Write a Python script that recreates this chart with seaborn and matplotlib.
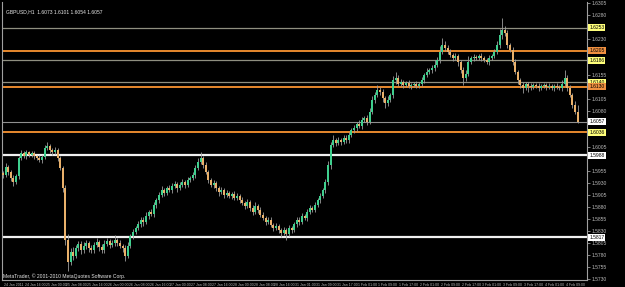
import matplotlib
matplotlib.use("Agg")
import matplotlib.pyplot as plt
import matplotlib.transforms as mtransforms
import numpy as np
import pandas as pd
import seaborn as sns

# ---------------- data ----------------
title_text = "GBPUSD,H1  1.6073 1.6101 1.6054 1.6057"
copyright_text = "MetaTrader, \u00a9 2001-2010 MetaQuotes Software Corp."

first_open = 1.5950
close = [
    1.5946, 1.5963, 1.5953, 1.5940, 1.5932, 1.5944, 1.5982, 1.5992, 1.5986, 1.5994,
    1.5988, 1.5992, 1.5986, 1.5982, 1.5978, 1.5984, 1.6003, 1.6007, 1.5999, 1.5994,
    1.5999, 1.5982, 1.5961, 1.5919, 1.5811, 1.5765, 1.5786, 1.5778, 1.5794, 1.5803,
    1.5790, 1.5799, 1.5805, 1.5794, 1.5790, 1.5801, 1.5807, 1.5796, 1.5790, 1.5803,
    1.5809, 1.5801, 1.5805, 1.5811, 1.5805, 1.5799, 1.5794, 1.5778, 1.5799, 1.5819,
    1.5828, 1.5836, 1.5844, 1.5853, 1.5849, 1.5861, 1.5869, 1.5865, 1.5884, 1.5894,
    1.5905, 1.5915, 1.5909, 1.5919, 1.5915, 1.5924, 1.5928, 1.5919, 1.5926, 1.5932,
    1.5926, 1.5936, 1.5940, 1.5946, 1.5961, 1.5974, 1.5982, 1.5967, 1.5953, 1.5936,
    1.5926, 1.5930, 1.5919, 1.5911, 1.5915, 1.5905, 1.5909, 1.5903, 1.5907, 1.5899,
    1.5903, 1.5894, 1.5888, 1.5882, 1.5890, 1.5878, 1.5869, 1.5882, 1.5874, 1.5863,
    1.5857, 1.5849, 1.5853, 1.5842, 1.5836, 1.5840, 1.5832, 1.5826, 1.5832, 1.5824,
    1.5836, 1.5832, 1.5844, 1.5853, 1.5849, 1.5861, 1.5857, 1.5869, 1.5878, 1.5874,
    1.5884, 1.5894, 1.5903, 1.5915, 1.5932, 1.5967, 1.6009, 1.6019, 1.6013, 1.6019,
    1.6015, 1.6024, 1.6019, 1.6030, 1.6040, 1.6044, 1.6053, 1.6049, 1.6061, 1.6065,
    1.6057, 1.6078, 1.6103, 1.6113, 1.6124, 1.6119, 1.6107, 1.6097, 1.6103, 1.6113,
    1.6144, 1.6149, 1.6136, 1.6140, 1.6134, 1.6138, 1.6132, 1.6134, 1.6136, 1.6132,
    1.6136, 1.6144, 1.6155, 1.6161, 1.6165, 1.6169, 1.6176, 1.6186, 1.6203, 1.6217,
    1.6211, 1.6203, 1.6196, 1.6190, 1.6194, 1.6182, 1.6165, 1.6149, 1.6157, 1.6182,
    1.6190, 1.6192, 1.6190, 1.6194, 1.6190, 1.6186, 1.6182, 1.6190, 1.6194, 1.6203,
    1.6217, 1.6238, 1.6249, 1.6242, 1.6217, 1.6207, 1.6182, 1.6161, 1.6144, 1.6134,
    1.6128, 1.6136, 1.6132, 1.6130, 1.6134, 1.6132, 1.6128, 1.6132, 1.6134, 1.6130,
    1.6132, 1.6128, 1.6132, 1.6130, 1.6128, 1.6136, 1.6149, 1.6128, 1.6113, 1.6092,
    1.6078, 1.6057,
]
# upper / lower shadows in pips
up_wick = [
    5, 8, 4, 3, 6, 4, 5, 7, 4, 5,
    3, 4, 5, 3, 6, 4, 6, 8, 5, 4,
    6, 4, 5, 4, 6, 12, 8, 10, 6, 7,
    5, 8, 6, 4, 7, 5, 9, 4, 6, 8,
    6, 5, 7, 10, 5, 6, 4, 6, 8, 5,
    6, 4, 7, 5, 6, 8, 4, 6, 7, 5,
    6, 8, 5, 4, 7, 5, 6, 4, 5, 7,
    4, 6, 5, 7, 6, 8, 12, 5, 6, 4,
    5, 6, 4, 5, 7, 4, 6, 5, 4, 6,
    5, 4, 6, 5, 7, 4, 5, 8, 4, 5,
    6, 4, 5, 7, 4, 6, 5, 4, 6, 5,
    7, 5, 4, 6, 5, 7, 4, 6, 5, 4,
    6, 5, 7, 5, 6, 8, 6, 10, 5, 6,
    4, 6, 5, 7, 5, 6, 4, 8, 6, 5,
    6, 7, 8, 6, 10, 5, 6, 4, 7, 5,
    8, 12, 5, 6, 4, 5, 6, 4, 5, 6,
    5, 6, 4, 8, 5, 6, 10, 7, 12, 15,
    8, 6, 5, 4, 6, 5, 4, 6, 8, 12,
    5, 6, 4, 5, 6, 4, 5, 6, 4, 6,
    8, 12, 25, 8, 6, 5, 7, 6, 5, 4,
    6, 5, 4, 6, 5, 4, 6, 5, 4, 5,
    6, 4, 5, 6, 4, 8, 16, 6, 5, 4,
    8, 14,
]
down_wick = [
    6, 4, 7, 5, 8, 4, 6, 5, 4, 6,
    5, 4, 6, 5, 4, 6, 5, 4, 6, 5,
    4, 6, 5, 8, 10, 18, 6, 8, 5, 6,
    8, 5, 6, 7, 5, 6, 4, 8, 6, 5,
    4, 6, 5, 7, 6, 5, 8, 10, 5, 4,
    6, 5, 4, 6, 8, 5, 6, 4, 5, 6,
    5, 4, 6, 5, 4, 6, 5, 7, 4, 5,
    6, 4, 5, 4, 5, 4, 5, 6, 5, 6,
    4, 6, 5, 8, 4, 6, 5, 4, 6, 5,
    4, 6, 5, 7, 4, 6, 5, 4, 6, 5,
    4, 6, 5, 4, 7, 5, 6, 8, 5, 13,
    5, 6, 4, 5, 6, 4, 5, 6, 4, 5,
    4, 5, 6, 4, 5, 6, 8, 5, 6, 4,
    5, 4, 6, 5, 4, 6, 5, 4, 6, 5,
    6, 4, 5, 6, 4, 5, 8, 10, 6, 5,
    6, 8, 5, 4, 6, 5, 4, 6, 5, 4,
    5, 4, 6, 5, 4, 6, 5, 4, 6, 5,
    6, 5, 4, 6, 5, 8, 6, 15, 6, 5,
    4, 6, 5, 4, 6, 5, 4, 6, 5, 4,
    5, 6, 8, 6, 5, 4, 6, 5, 8, 6,
    10, 5, 12, 6, 4, 5, 6, 4, 5, 6,
    4, 5, 6, 4, 5, 6, 5, 6, 5, 6,
    5, 3,
]

time_labels = [
    "24 Jan 2011", "24 Jan 16:00", "25 Jan 00:00", "25 Jan 08:00", "25 Jan 16:00",
    "26 Jan 00:00", "26 Jan 08:00", "26 Jan 16:00", "27 Jan 00:00", "27 Jan 08:00",
    "27 Jan 16:00", "28 Jan 00:00", "28 Jan 08:00", "28 Jan 16:00", "31 Jan 01:00",
    "31 Jan 09:00", "31 Jan 17:00", "1 Feb 01:00", "1 Feb 09:00", "1 Feb 17:00",
    "2 Feb 01:00", "2 Feb 09:00", "2 Feb 17:00", "3 Feb 01:00", "3 Feb 09:00",
    "3 Feb 17:00", "4 Feb 01:00", "4 Feb 09:00",
]
bars_per_label = 8

price_ticks = [
    1.6305, 1.6280, 1.6255, 1.6230, 1.6205, 1.6180, 1.6155, 1.6130, 1.6105, 1.6080,
    1.6055, 1.6030, 1.6005, 1.5980, 1.5955, 1.5930, 1.5905, 1.5880, 1.5855, 1.5830,
    1.5805, 1.5780, 1.5755, 1.5730,
]

# horizontal levels: price, kind
level_prices = [1.6253, 1.6205, 1.6186, 1.6140, 1.6130, 1.6057, 1.6036, 1.5988, 1.5817]
level_kinds = ["grey", "orange", "grey", "grey", "orange", "bid", "orange", "white", "white"]
level_label_kinds = ["yellow", "orange", "yellow", "yellow", "orange", "white", "yellow", "white", "white"]

# ---------------- build frame ----------------
n = len(close)
df = pd.DataFrame({"close": close, "up": up_wick, "down": down_wick})
df["open"] = [first_open] + close[:-1]
df["top"] = df[["open", "close"]].max(axis=1)
df["bot"] = df[["open", "close"]].min(axis=1)
df["high"] = df["top"] + df["up"] * 1e-4
df["low"] = df["bot"] - df["down"] * 1e-4
df["bull"] = df["close"] >= df["open"]
df["x"] = np.arange(n)

# ---------------- style ----------------
sns.set_theme(style="dark", rc={
    "axes.facecolor": "black",
    "figure.facecolor": "black",
    "axes.edgecolor": "#9a9a9a",
    "axes.grid": False,
})
plt.rcParams["font.family"] = ["Liberation Sans", "DejaVu Sans"]

W, H = 625, 287
fig = plt.figure(figsize=(W / 100, H / 100), dpi=100)
left_px, right_px, top_px, bot_px = 2, 587, 2, 280
ax = fig.add_axes([left_px / W, 1 - bot_px / H, (right_px - left_px) / W, (bot_px - top_px) / H])

bull_col = "#3fcf8e"
bear_col = "#e9b06a"
wick_col = "#9c9c9c"

ax.vlines(df["x"], df["low"], df["high"], color=wick_col, linewidth=0.6, zorder=2)
heights = (df["top"] - df["bot"]).clip(lower=0.00004)
ax.bar(df["x"], heights, bottom=df["bot"], width=0.78,
       color=np.where(df["bull"], bull_col, bear_col), linewidth=0, zorder=3)

line_styles = {
    "grey": dict(color="#8f8f80", lw=0.9),
    "orange": dict(color="#e8892e", lw=1.4),
    "bid": dict(color="#8f8f8f", lw=0.8),
    "white": dict(color="#f0f0f0", lw=1.6),
}
label_colors = {"yellow": "#ffff7a", "orange": "#f09040", "white": "#ffffff"}

for p, k in zip(level_prices, level_kinds):
    ax.axhline(p, zorder=1, **line_styles[k])

ymin, ymax = 1.57278, 1.63068
ax.set_xlim(-0.4, 224.6)
ax.set_ylim(ymin, ymax)

ax.spines["top"].set_visible(False)
for s in ["left", "right", "bottom"]:
    ax.spines[s].set_color("#a0a0a0")
    ax.spines[s].set_linewidth(0.8)

# y ticks on the right (hide those covered by a highlighted level label)
shown_ticks = [t for t in price_ticks if min(abs(t - p) for p in level_prices) > 0.0011]
ax.yaxis.tick_right()
ax.set_yticks(shown_ticks)
ax.set_yticklabels([f"{v:.4f}" for v in shown_ticks])
ax.tick_params(axis="y", colors="#b8b8b8", labelsize=3.6, length=2, width=0.5, pad=1.5)

# x ticks
xt = [i * bars_per_label for i in range(len(time_labels))]
ax.set_xticks(xt)
ax.set_xticklabels(time_labels, ha="left")
ax.tick_params(axis="x", colors="#b8b8b8", labelsize=2.5, length=2, width=0.5, pad=0.4)
for lab in ax.get_xticklabels():
    lab.set_transform(lab.get_transform() + mtransforms.ScaledTranslation(1.0 / 100, 0, fig.dpi_scale_trans))

# highlighted level labels
trans = mtransforms.blended_transform_factory(ax.transAxes, ax.transData)
for p, lk in zip(level_prices, level_label_kinds):
    ax.text(1.004, p, f"{p:.4f}", transform=trans, fontsize=3.6, color="black",
            va="center", ha="left", clip_on=False, zorder=10,
            bbox=dict(boxstyle="square,pad=0.2", facecolor=label_colors[lk], edgecolor="none"))

ax.text(0.006, 0.975, title_text, transform=ax.transAxes, fontsize=3.6, color="#e8e8e8",
        va="top", ha="left")
ax.text(0.002, 0.004, copyright_text, transform=ax.transAxes, fontsize=3.6, color="#e8e8e8",
        va="bottom", ha="left")

fig.savefig("out.png", dpi=100, facecolor="black")
